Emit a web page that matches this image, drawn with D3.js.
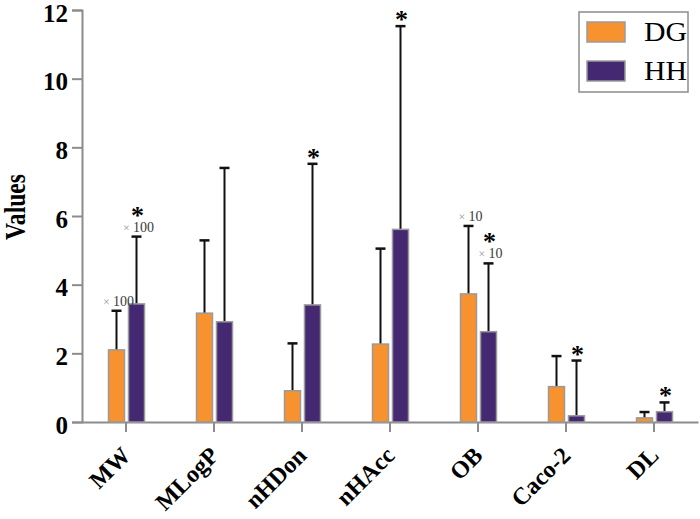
<!DOCTYPE html>
<html>
<head>
<meta charset="utf-8">
<script src="https://cdn.jsdelivr.net/npm/d3@7"></script>
<style>
  html, body { margin: 0; padding: 0; background: #fff; }
  svg { display: block; }
</style>
</head>
<body>
<svg id="chart" width="700" height="519"></svg>
<script>
// ---- data ----
const categories = ["MW", "MLogP", "nHDon", "nHAcc", "OB", "Caco-2", "DL"];
const seriesNames = ["DG", "HH"];
const dgValues = [2.10, 3.17, 0.91, 2.27, 3.73, 1.03, 0.12];
const dgErrors = [1.14, 2.12, 1.38, 2.78, 1.98, 0.89, 0.17];
const hhValues = [3.44, 2.92, 3.41, 5.61, 2.63, 0.18, 0.30];
const hhErrors = [1.96, 4.48, 4.11, 5.92, 1.99, 1.61, 0.27];
const hhSignificant = [true, false, true, true, true, true, true];
const dgScaleNote = ["100", "", "", "", "10", "", ""];
const hhScaleNote = ["100", "", "", "", "10", "", ""];
const yTicks = [0, 2, 4, 6, 8, 10, 12];
const colors = { DG: "#F7922E", HH: "#452872" };

// ---- layout ----
const svg = d3.select("#chart");
const x0 = d3.scaleBand().domain(categories).range([82, 698]).paddingInner(0).paddingOuter(0);
const y = d3.scaleLinear().domain([0, 12]).range([422, 10]);
const serif = "'Liberation Serif', 'Times New Roman', serif";
const axisColor = "#8c8c8c";
const boldify = sel => sel.attr("font-family", serif).attr("font-weight", "bold").attr("fill", "#000");

// y axis
const yAxis = svg.append("g").attr("transform", "translate(82,0)")
  .call(d3.axisLeft(y).tickValues(yTicks).tickSize(10).tickPadding(4).tickFormat(d3.format("d")));
yAxis.select(".domain").attr("stroke", axisColor).attr("stroke-width", 2);
yAxis.selectAll(".tick line").attr("stroke", axisColor).attr("stroke-width", 2);
yAxis.selectAll(".tick text").call(boldify).attr("font-size", 25).attr("dy", "0.45em");

// x axis
const xAxis = svg.append("g").attr("transform", "translate(0,422)")
  .call(d3.axisBottom(x0).tickSize(10).tickSizeOuter(0));
xAxis.select(".domain").attr("stroke", axisColor).attr("stroke-width", 2);
xAxis.selectAll(".tick line").attr("stroke", axisColor).attr("stroke-width", 2);
xAxis.selectAll(".tick text").remove();
xAxis.selectAll(".tick").append("text")
  .attr("transform", "translate(6,35) rotate(-45)")
  .attr("text-anchor", "end")
  .call(boldify).attr("font-size", 24)
  .text(d => d);

// y label
svg.append("text")
  .attr("transform", "translate(25,207) rotate(-90)")
  .attr("text-anchor", "middle")
  .call(boldify).attr("font-size", 30)
  .attr("textLength", 66).attr("lengthAdjust", "spacingAndGlyphs")
  .text("Values");

// bars
const barW = 16;
const offsets = { DG: -17.5, HH: 2.5 };
const rows = [];
categories.forEach((c, i) => {
  rows.push({ cat: c, s: "DG", v: dgValues[i], e: dgErrors[i], sig: false, note: dgScaleNote[i] });
  rows.push({ cat: c, s: "HH", v: hhValues[i], e: hhErrors[i], sig: hhSignificant[i], note: hhScaleNote[i] });
});
const center = d => x0(d.cat) + x0.bandwidth() / 2;
const barX = d => center(d) + offsets[d.s];
const barMid = d => barX(d) + barW / 2;

// error bars (upward only)
const eg = svg.append("g");
eg.selectAll("line.stem").data(rows).join("line")
  .attr("x1", barMid).attr("x2", barMid)
  .attr("y1", d => y(d.v)).attr("y2", d => y(d.v + d.e))
  .attr("stroke", "#111").attr("stroke-width", 2);
eg.selectAll("line.cap").data(rows).join("line")
  .attr("x1", d => barMid(d) - 5).attr("x2", d => barMid(d) + 5)
  .attr("y1", d => y(d.v + d.e)).attr("y2", d => y(d.v + d.e))
  .attr("stroke", "#111").attr("stroke-width", 2.5);

svg.append("g").selectAll("rect").data(rows).join("rect")
  .attr("x", barX).attr("width", barW)
  .attr("y", d => y(d.v)).attr("height", d => y(0) - y(d.v))
  .attr("fill", d => colors[d.s]).attr("stroke", "#9a9a9a").attr("stroke-width", 1.5);

// scale notes (× 100 / × 10)
const notes = svg.append("g");
rows.filter(d => d.note).forEach(d => {
  const t = notes.append("text")
    .attr("x", barMid(d) + 2).attr("y", y(d.v + d.e) - 5)
    .attr("text-anchor", "middle")
    .attr("font-family", serif).attr("font-size", 14);
  t.append("tspan").attr("fill", "#999").attr("font-size", 12).text("× ");
  t.append("tspan").attr("fill", "#3a3a3a").text(d.note);
});

// significance asterisks
svg.append("g").selectAll("text").data(rows.filter(d => d.sig)).join("text")
  .attr("x", d => barMid(d) + 1)
  .attr("y", d => y(d.v + d.e) - (d.note ? 25 : 10) + 12)
  .attr("text-anchor", "middle")
  .call(boldify).attr("font-size", 26)
  .text("*");

// legend
const lg = svg.append("g");
lg.append("rect").attr("x", 579).attr("y", 12).attr("width", 109).attr("height", 80)
  .attr("fill", "#fff").attr("stroke", "#8c8c8c").attr("stroke-width", 1.5);
seriesNames.forEach((s, i) => {
  const yy = 22 + i * 39;
  lg.append("rect").attr("x", 587).attr("y", yy).attr("width", 38).attr("height", 20)
    .attr("fill", colors[s]).attr("stroke", "#9a9a9a").attr("stroke-width", 1.5);
  lg.append("text").attr("x", 644).attr("y", yy + 19)
    .attr("font-family", serif).attr("font-size", 27)
    .attr("textLength", 43).attr("lengthAdjust", "spacingAndGlyphs")
    .attr("fill", "#000").text(s);
});
</script>
</body>
</html>
